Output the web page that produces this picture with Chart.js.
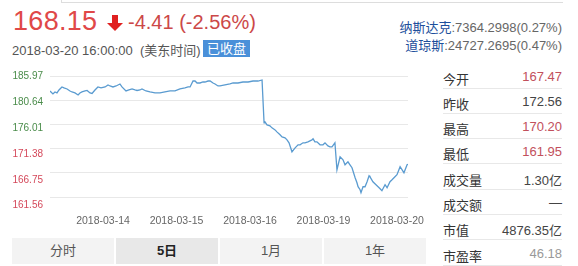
<!DOCTYPE html>
<html>
<head>
<meta charset="utf-8">
<script src="https://cdn.jsdelivr.net/npm/chart.js@4/dist/chart.umd.min.js"></script>
<style>
  body { margin: 0; background: #fff; font-family: "Liberation Sans", "Noto Sans CJK SC", sans-serif; }
  #page { position: relative; width: 578px; height: 266px; overflow: hidden; }
  .abs { position: absolute; white-space: nowrap; }
  #topline { left: 61px; top: 0; width: 501px; height: 2px; border-left: 1px solid #ddd; border-bottom: 1px solid #ddd; }
  #price { left: 13px; top: 6px; font-size: 27px; color: #e04848; letter-spacing: 0.3px; }
  #arrow { left: 106px; top: 14px; }
  #chg { left: 128px; top: 11px; font-size: 20px; color: #cc4848; }
  #date { left: 12px; top: 40px; font-size: 13px; color: #555; }
  #closed { left: 203px; top: 40px; height: 17px; line-height: 17px; padding: 0 4px; background: #4a90d9; color: #fff; font-size: 13px; }
  .idx { right: 16px; font-size: 13px; color: #666; }
  .idx b { font-weight: normal; color: #1d4f9c; }
  .row { left: 443px; width: 119px; height: 25px; border-bottom: 1px solid #e8e8e8; font-size: 13px; color: #333; }
  .row span { position: absolute; right: 0; top: 6px; color: #444; }
  .row i { position: absolute; left: 0; top: 6px; font-style: normal; }
  .row .red { color: #c2505c; }
  #tabs { left: 12px; top: 238px; height: 26px; }
  .tab { position: absolute; top: 0; width: 102px; height: 26px; line-height: 26px; text-align: center; background: #f3f3f3; color: #555; font-size: 13px; }
  .tab.on { background: #e8e8e8; color: #222; font-weight: bold; }
  #wrap { position: absolute; left: 0; top: 0; width: 578px; height: 266px; }
</style>
</head>
<body>
<div id="page">
  <div id="topline" class="abs"></div>
  <div id="price" class="abs">168.15</div>
  <svg id="arrow" class="abs" width="18" height="18" viewBox="0 0 18 18"><path d="M6 1h6v8h5l-8 8-8-8h5z" fill="#e02020"/></svg>
  <div id="chg" class="abs">-4.41 (-2.56%)</div>
  <div id="date" class="abs">2018-03-20 16:00:00&nbsp;&nbsp;(美东时间)</div>
  <div id="closed" class="abs">已收盘</div>
  <div class="abs idx" style="top:17px"><b>纳斯达克</b>:7364.2998(0.27%)</div>
  <div class="abs idx" style="top:35px"><b>道琼斯</b>:24727.2695(0.47%)</div>

  <div class="abs row" style="top:63px"><i>今开</i><span class="red">167.47</span></div>
  <div class="abs row" style="top:88px"><i>昨收</i><span>172.56</span></div>
  <div class="abs row" style="top:113px"><i>最高</i><span class="red">170.20</span></div>
  <div class="abs row" style="top:138px"><i>最低</i><span class="red">161.95</span></div>
  <div class="abs row" style="top:164px"><i>成交量</i><span>1.30亿</span></div>
  <div class="abs row" style="top:189px"><i>成交额</i><span>—</span></div>
  <div class="abs row" style="top:214px"><i>市值</i><span>4876.35亿</span></div>
  <div class="abs row" style="top:240px"><i>市盈率</i><span style="color:#999">46.18</span></div>

  <div id="tabs" class="abs">
    <div class="tab" style="left:0">分时</div>
    <div class="tab on" style="left:104px">5日</div>
    <div class="tab" style="left:208px">1月</div>
    <div class="tab" style="left:312px">1年</div>
  </div>

  <div id="wrap"><canvas id="fiveDayChart" width="578" height="266"></canvas></div>
</div>

<script>
// minutes since 2018-03-14 open, 390 per trading day
var minutes = [0, 16, 27, 38, 49, 65, 76, 93, 109, 120, 136, 153, 163, 174, 191, 202, 218, 229, 245, 261,
  278, 300, 316, 327, 343, 360, 381,
  392, 414, 430, 447, 463, 474, 490, 501, 523, 545, 572, 599, 626, 654, 681, 708, 735, 752, 763,
  779, 790, 801, 817, 833, 844, 861, 872, 888, 899, 915, 926, 953, 980, 997, 1024, 1051, 1079, 1106, 1133, 1155, 1160,
  1166, 1171, 1182, 1198, 1209, 1226, 1236, 1253, 1264, 1280, 1291, 1302, 1318, 1335, 1351, 1362, 1378, 1389,
  1405, 1427, 1433, 1443, 1454, 1471, 1487, 1498, 1514, 1525, 1536, 1552,
  1563, 1580, 1596, 1607, 1623, 1634, 1645, 1662, 1672, 1678, 1689, 1694, 1705, 1716, 1727, 1738, 1743,
  1759, 1770, 1787, 1798, 1808, 1825, 1836, 1852, 1863, 1879, 1890, 1907, 1918, 1928, 1945, 1950];

var prices = [182.95, 182.35, 182.75, 182.55, 183.15, 183.76, 183.56, 183.35, 182.95, 182.75, 182.55, 182.15, 182.55, 182.75, 182.95, 183.05, 182.55, 182.45, 183.15, 183.76,
  183.56, 183.76, 184.16, 183.96, 183.76, 183.96, 184.36,
  183.76, 182.95, 183.15, 183.35, 183.15, 183.05, 183.15, 183.35, 182.95, 182.75, 182.55, 182.55, 182.75, 182.95, 182.95, 183.35, 183.56, 183.76, 183.76,
  184.96, 184.96, 184.56, 184.56, 184.76, 184.76, 184.96, 184.96, 184.56, 184.36, 183.96, 183.96, 184.16, 184.36, 184.56, 184.56, 184.76, 184.76, 184.96, 184.96, 185.17, 185.17,
  176.51, 176.71, 176.11, 175.91, 175.51, 175.10, 174.70, 174.10, 173.69, 173.49, 173.09, 172.49, 170.68, 171.48, 172.09, 172.09, 172.49, 172.49,
  172.69, 173.09, 173.29, 172.69, 172.69, 172.09, 172.09, 172.49, 171.88, 171.68, 171.68, 172.49,
  167.05, 169.67, 169.07, 168.06, 168.66, 168.06, 167.46, 165.44, 164.44, 163.63, 163.03, 162.42, 163.63, 163.63, 164.64, 165.85, 165.65,
  164.64, 164.24, 163.63, 163.23, 162.83, 164.04, 163.43, 164.64, 165.04, 165.65, 166.05, 167.66, 167.05, 166.45, 168.06, 168.15];

var dateLabels = ["2018-03-14", "2018-03-15", "2018-03-16", "2018-03-19", "2018-03-20"];
var priceLabels = ["185.97", "180.64", "176.01", "171.38", "166.75", "161.56"];
var priceMin = 161.56, priceMax = 185.97;

var points = minutes.map(function(t, i) { return { x: t, y: prices[i] }; });

var chart_five = new Chart(document.getElementById("fiveDayChart").getContext("2d"), {
  type: 'line',
  data: {
    datasets: [{
      data: points,
      borderColor: '#5a9bd0',
      borderWidth: 1.3,
      pointRadius: 0,
      tension: 0,
      fill: false
    }]
  },
  options: {
    responsive: false,
    animation: false,
    events: [],
    layout: { padding: { left: 0, top: 76, right: 170, bottom: 0 } },
    plugins: { legend: { display: false }, tooltip: { enabled: false } },
    scales: {
      x: { type: 'linear', min: 0, max: 1950, display: false },
      xl: {
        type: 'linear', position: 'bottom', min: -0.721, max: 4.15,
        grid: { display: false, drawTicks: false }, border: { display: false },
        afterBuildTicks: function(scale) {
          scale.ticks = dateLabels.map(function(l, i) { return { value: i }; });
        },
        afterFit: function(scale) { scale.height = 69; },
        ticks: {
          autoSkip: false, maxRotation: 0, padding: 18,
          color: '#666', font: { size: 10.5, family: '"Liberation Sans", sans-serif' },
          callback: function(v, i) { return dateLabels[i]; }
        }
      },
      y: {
        type: 'linear', position: 'left', min: priceMin, max: priceMax,
        afterBuildTicks: function(scale) {
          var step = (priceMax - priceMin) / 5, t = [];
          for (var i = 0; i <= 5; i++) t.push({ value: priceMin + i * step });
          scale.ticks = t;
        },
        afterFit: function(scale) { scale.width = 0; },
        grid: { color: '#e8e8e8', lineWidth: 1, drawTicks: false },
        border: { display: false },
        ticks: { display: false }
      },
      yl: {
        type: 'linear', position: 'left', reverse: true, min: 0, max: 4.665,
        grid: { display: false, drawTicks: false }, border: { display: false },
        afterBuildTicks: function(scale) {
          scale.ticks = priceLabels.map(function(l, i) { return { value: i }; });
        },
        afterFit: function(scale) { scale.width = 50; },
        ticks: {
          autoSkip: false, padding: 7,
          font: { size: 10, family: '"Liberation Sans", sans-serif' },
          color: function(ctx) { return ctx.index < 3 ? '#4a8c4a' : '#d4485a'; },
          callback: function(v, i) { return priceLabels[i]; }
        }
      }
    }
  }
});
</script>
</body>
</html>
